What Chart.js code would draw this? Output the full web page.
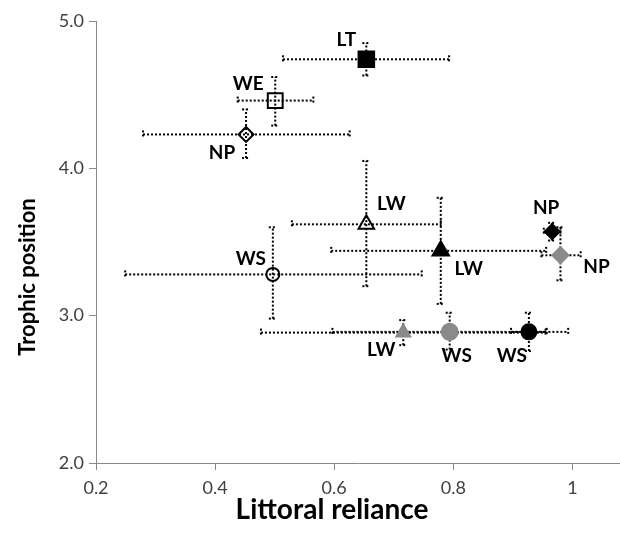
<!DOCTYPE html>
<html><head><meta charset="utf-8">
<script src="https://cdn.jsdelivr.net/npm/chart.js@4.4.1/dist/chart.umd.min.js"></script>
<style>html,body{margin:0;padding:0;background:#fff;}#wrap{width:620px;height:533px;}</style>
</head><body><div id="wrap"><canvas id="c" width="620" height="533"></canvas></div>
<script>
// ---- data ----
const pointLabels      = ['LT','WE','NP','LW','LW','NP','NP','WS','LW','WS','WS'];
const littoralReliance = [0.654,0.501,0.452,0.654,0.779,0.966,0.980,0.497,0.716,0.794,0.927];
const trophicPosition  = [4.74,4.46,4.23,3.62,3.44,3.57,3.41,3.28,2.885,2.89,2.89];
const relianceLow      = [0.514,0.438,0.279,0.529,0.595,0.952,0.948,0.249,0.477,0.597,0.897];
const relianceHigh     = [0.793,0.565,0.626,0.779,0.956,0.980,1.014,0.747,0.955,0.993,0.957];
const trophicLow       = [4.63,4.29,4.07,3.20,3.08,3.51,3.24,2.98,2.80,2.77,2.76];
const trophicHigh      = [4.85,4.62,4.40,4.05,3.80,3.63,3.60,3.60,2.97,3.02,3.02];
const xTickValues      = [0.2,0.4,0.6,0.8,1];
const yTickValues      = [2,3,4,5];
const xTitle = 'Littoral reliance';
const yTitle = 'Trophic position';

// ---- styles ----
const T = 'rgba(255,255,255,0)';
const markerStyle = [
  {shape:'rect',     r:11,  fill:'#000', stroke:'#000'},
  {shape:'rect',     r:10.5,fill:T,      stroke:'#000'},
  {shape:'rectRot',  r:7.5, fill:T,      stroke:'#000'},
  {shape:'triangle', r:9,   fill:T,      stroke:'#000'},
  {shape:'triangle', r:9.5, fill:'#000', stroke:'#000'},
  {shape:'rectRot',  r:7.5, fill:'#000', stroke:'#000'},
  {shape:'rectRot',  r:8,   fill:'#8a8a8a', stroke:'#8a8a8a'},
  {shape:'circle',   r:6.5, fill:T,      stroke:'#000'},
  {shape:'triangle', r:8,   fill:'#8a8a8a', stroke:'#8a8a8a'},
  {shape:'circle',   r:8,   fill:'#8a8a8a', stroke:'#8a8a8a'},
  {shape:'circle',   r:7.5, fill:'#000', stroke:'#000'}
];
const labelOffset = [[-20,-19],[-27,-17],[-24,18],[25,-20],[28,18],[-6,-24],[36,12],[-22,-16],[-22,17],[7,24],[-17,24]];

const datasets = pointLabels.map((lab,i)=>({
  label: lab,
  data: [{x: littoralReliance[i], y: trophicPosition[i]}],
  pointStyle: markerStyle[i].shape,
  pointRadius: markerStyle[i].r,
  pointHoverRadius: markerStyle[i].r,
  backgroundColor: markerStyle[i].fill,
  borderColor: markerStyle[i].stroke,
  borderWidth: 2,
  clip: false
}));

const errorBars = {
  id: 'errorBars',
  beforeDatasetsDraw(chart){
    const {ctx, scales:{x, y}} = chart;
    ctx.save();
    ctx.strokeStyle = '#000';
    ctx.lineWidth = 2;
    ctx.setLineDash([2,2]);
    const cap = 4;
    const seg = (a,b,c,d)=>{ctx.beginPath();ctx.moveTo(a,b);ctx.lineTo(c,d);ctx.stroke();};
    for (let i=0;i<pointLabels.length;i++){
      const px = x.getPixelForValue(littoralReliance[i]);
      const py = y.getPixelForValue(trophicPosition[i]);
      const xl = x.getPixelForValue(relianceLow[i]);
      const xh = x.getPixelForValue(relianceHigh[i]);
      const yl = y.getPixelForValue(trophicLow[i]);
      const yh = y.getPixelForValue(trophicHigh[i]);
      seg(xl,py,xh,py);
      seg(px,yl,px,yh);
      seg(xl,py-cap,xl,py+cap);
      seg(xh,py-cap,xh,py+cap);
      seg(px-cap,yl,px+cap,yl);
      seg(px-cap,yh,px+cap,yh);
    }
    ctx.restore();
  },
  afterDatasetsDraw(chart){
    const {ctx, scales:{x, y}} = chart;
    ctx.save();
    ctx.fillStyle = '#000';
    ctx.font = 'bold 19px Lato';
    ctx.textAlign = 'center';
    ctx.textBaseline = 'middle';
    for (let i=0;i<pointLabels.length;i++){
      const px = x.getPixelForValue(littoralReliance[i]);
      const py = y.getPixelForValue(trophicPosition[i]);
      ctx.fillText(pointLabels[i], px + labelOffset[i][0], py + labelOffset[i][1]);
    }
    ctx.restore();
  },
  afterDraw(chart){
    const {ctx, chartArea} = chart;
    ctx.save();
    ctx.fillStyle = '#000';
    ctx.textAlign = 'center';
    ctx.textBaseline = 'middle';
    ctx.font = 'bold 28px Lato';
    ctx.fillText(xTitle, 332, chartArea.bottom + 47);
    ctx.translate(28, chartArea.top + 256);
    ctx.rotate(-Math.PI/2);
    ctx.font = 'bold 22px Lato';
    ctx.fillText(yTitle, 0, 0);
    ctx.restore();
  }
};

new Chart(document.getElementById('c'), {
  type: 'scatter',
  data: { datasets },
  plugins: [errorBars],
  options: {
    responsive: false,
    animation: false,
    events: [],
    layout: { autoPadding: false, padding: { top: 21, right: 0, left: 0, bottom: 0 } },
    plugins: { legend: { display: false }, tooltip: { enabled: false } },
    scales: {
      x: {
        type: 'linear', min: 0.2, max: 1.08,
        afterBuildTicks(s){ s.ticks = xTickValues.map(v=>({value:v})); },
        afterFit(s){ s.height = 70; s.paddingLeft = 0; s.paddingRight = 0; },
        ticks: { font: { family: 'Lato', size: 18 }, color: '#404040', padding: 7,
                 callback: v => String(Math.round(v*10)/10) },
        grid: { drawOnChartArea: false, drawTicks: true, tickLength: 7, tickColor: '#888' },
        border: { color: '#888', width: 1 }
      },
      y: {
        type: 'linear', min: 2, max: 5,
        afterBuildTicks(s){ s.ticks = yTickValues.map(v=>({value:v})); },
        afterFit(s){ s.width = 96; s.paddingTop = 0; s.paddingBottom = 0; },
        ticks: { font: { family: 'Lato', size: 18 }, color: '#404040', padding: 5,
                 callback: v => v.toFixed(1) },
        grid: { drawOnChartArea: false, drawTicks: true, tickLength: 7, tickColor: '#888' },
        border: { color: '#888', width: 1 }
      }
    }
  }
});
</script></body></html>
